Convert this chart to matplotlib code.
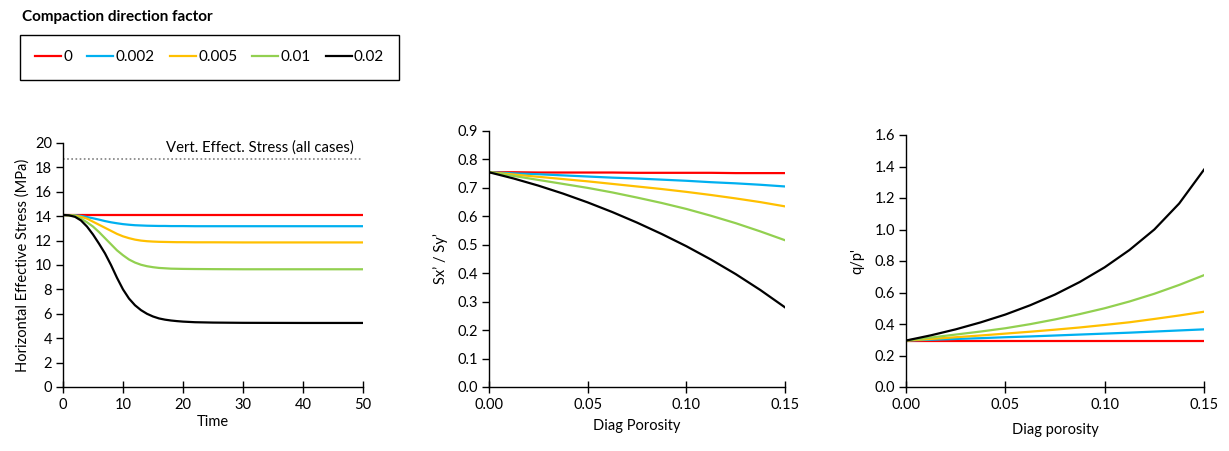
import numpy as np
import matplotlib
matplotlib.use("Agg")
import matplotlib.pyplot as plt
from matplotlib.lines import Line2D
from matplotlib.ticker import FormatStrFormatter

plt.rcParams["font.family"] = ["Lato", "DejaVu Sans"]
plt.rcParams["font.size"] = 10.5
plt.rcParams["axes.linewidth"] = 1.0

# legend / cases
factors = ["0", "0.002", "0.005", "0.01", "0.02"]
colors = ["#FF0000", "#00B0F0", "#FFC000", "#92D050", "#000000"]

# chart 1: horizontal effective stress (MPa) vs time
time = [0, 1, 2, 3, 4, 5, 6, 7, 8, 9, 10, 11, 12, 13, 14, 15, 16, 17, 18, 19, 20, 22, 25, 30, 40, 50]
stress_0 = [14.1] * 26
stress_002 = [14.1, 14.09, 14.08, 14.02, 13.93, 13.83, 13.72, 13.6, 13.5, 13.42, 13.35, 13.3, 13.26,
              13.24, 13.22, 13.21, 13.2, 13.2, 13.19, 13.19, 13.19, 13.18, 13.18, 13.18, 13.18, 13.18]
stress_005 = [14.1, 14.08, 14.05, 13.95, 13.8, 13.55, 13.3, 13.05, 12.8, 12.55, 12.35, 12.2, 12.08,
              12.0, 11.95, 11.92, 11.9, 11.89, 11.88, 11.87, 11.87, 11.86, 11.86, 11.85, 11.85, 11.85]
stress_01 = [14.1, 14.08, 14.0, 13.8, 13.5, 13.15, 12.7, 12.2, 11.7, 11.2, 10.8, 10.45, 10.2,
             10.02, 9.9, 9.82, 9.76, 9.73, 9.7, 9.69, 9.68, 9.67, 9.66, 9.65, 9.65, 9.65]
stress_02 = [14.1, 14.07, 13.95, 13.65, 13.15, 12.5, 11.75, 10.95, 10.0, 8.95, 8.0, 7.25, 6.7,
             6.3, 6.0, 5.78, 5.62, 5.52, 5.45, 5.4, 5.36, 5.31, 5.28, 5.26, 5.25, 5.25]
stress = [stress_0, stress_002, stress_005, stress_01, stress_02]
vert_stress = 18.7

# chart 2 + 3: diag porosity
poro = [0.0, 0.0125, 0.025, 0.0375, 0.05, 0.0625, 0.075, 0.0875, 0.10, 0.1125, 0.125, 0.1375, 0.15]

# Sx'/Sy'
ratio_0 = [0.755, 0.755, 0.754, 0.754, 0.754, 0.754, 0.753, 0.753, 0.753, 0.753, 0.752, 0.752, 0.752]
ratio_002 = [0.755, 0.751, 0.748, 0.744, 0.740, 0.736, 0.733, 0.729, 0.725, 0.720, 0.716, 0.711, 0.705]
ratio_005 = [0.755, 0.747, 0.739, 0.731, 0.723, 0.714, 0.705, 0.696, 0.686, 0.675, 0.663, 0.650, 0.635]
ratio_01 = [0.755, 0.742, 0.728, 0.714, 0.700, 0.684, 0.666, 0.647, 0.626, 0.602, 0.576, 0.547, 0.516]
ratio_02 = [0.755, 0.733, 0.708, 0.680, 0.649, 0.615, 0.578, 0.538, 0.495, 0.448, 0.397, 0.341, 0.280]
ratio = [ratio_0, ratio_002, ratio_005, ratio_01, ratio_02]

# q/p'
qp_0 = [0.295] * 13
qp_002 = [0.295, 0.300, 0.305, 0.310, 0.316, 0.321, 0.327, 0.333, 0.339, 0.345, 0.352, 0.359, 0.366]
qp_005 = [0.295, 0.305, 0.316, 0.327, 0.339, 0.351, 0.364, 0.378, 0.394, 0.411, 0.432, 0.454, 0.478]
qp_01 = [0.295, 0.314, 0.333, 0.352, 0.373, 0.399, 0.429, 0.463, 0.500, 0.543, 0.592, 0.648, 0.710]
qp_02 = [0.295, 0.328, 0.366, 0.410, 0.460, 0.519, 0.587, 0.667, 0.760, 0.870, 1.000, 1.165, 1.380]
qp = [qp_0, qp_002, qp_005, qp_01, qp_02]

W, H = 1229, 451
fig = plt.figure(figsize=(W / 100, H / 100), dpi=100)


def style(ax):
    ax.spines["top"].set_visible(False)
    ax.spines["right"].set_visible(False)
    ax.tick_params(axis="x", direction="inout", length=8, width=1, pad=4)
    ax.tick_params(axis="y", direction="out", length=5, width=1, pad=3)


ax1 = fig.add_axes([63 / W, 1 - 387 / H, 300 / W, 244 / H])
ax2 = fig.add_axes([489 / W, 1 - 387 / H, 296 / W, 256 / H])
ax3 = fig.add_axes([906 / W, 1 - 387 / H, 298 / W, 252 / H])

for i in range(len(factors)):
    ax1.plot(time, stress[i], color=colors[i], lw=1.6)
    ax2.plot(poro, ratio[i], color=colors[i], lw=1.6)
    ax3.plot(poro, qp[i], color=colors[i], lw=1.6)

ax1.plot([0, 50], [vert_stress, vert_stress], color="#808080", lw=1.2, ls=(0, (1, 1.5)))
ax1.text(48.5, vert_stress + 0.3, "Vert. Effect. Stress (all cases)", ha="right", va="bottom", fontsize=10.7)

ax1.set_xlim(0, 50)
ax1.set_ylim(0, 20)
ax1.set_xticks(np.arange(0, 51, 10))
ax1.set_yticks(np.arange(0, 21, 2))
ax1.set_xlabel("Time", labelpad=2)
ax1.set_ylabel("Horizontal Effective Stress (MPa)", labelpad=4)

ax2.set_xlim(0, 0.15)
ax2.set_ylim(0, 0.9)
ax2.set_xticks([0, 0.05, 0.10, 0.15])
ax2.set_yticks(np.arange(0, 0.91, 0.1))
ax2.xaxis.set_major_formatter(FormatStrFormatter("%.2f"))
ax2.yaxis.set_major_formatter(FormatStrFormatter("%.1f"))
ax2.set_xlabel("Diag Porosity", labelpad=5)
ax2.set_ylabel("Sx\u2019 / Sy\u2019", labelpad=7)

ax3.set_xlim(0, 0.15)
ax3.set_ylim(0, 1.6)
ax3.set_xticks([0, 0.05, 0.10, 0.15])
ax3.set_yticks(np.arange(0, 1.61, 0.2))
ax3.xaxis.set_major_formatter(FormatStrFormatter("%.2f"))
ax3.yaxis.set_major_formatter(FormatStrFormatter("%.1f"))
ax3.set_xlabel("Diag porosity", labelpad=8)
ax3.set_ylabel("q/p'", labelpad=7)

for ax in (ax1, ax2, ax3):
    style(ax)

fig.text(22 / W, 1 - 17 / H, "Compaction direction factor", fontsize=11, fontweight="bold", va="center", ha="left")

handles = [Line2D([], [], color=c, lw=1.6) for c in colors]
leg = fig.legend(
    handles, factors, ncol=5, loc="upper left",
    bbox_to_anchor=(20 / W, 1 - 35 / H), borderaxespad=0,
    frameon=True, fancybox=False, edgecolor="black", framealpha=1,
    borderpad=1.0, handlelength=1.7, handletextpad=0.15, columnspacing=0.98,
    fontsize=11,
)
leg.get_frame().set_linewidth(1.0)

fig.savefig("out.png", dpi=100)
